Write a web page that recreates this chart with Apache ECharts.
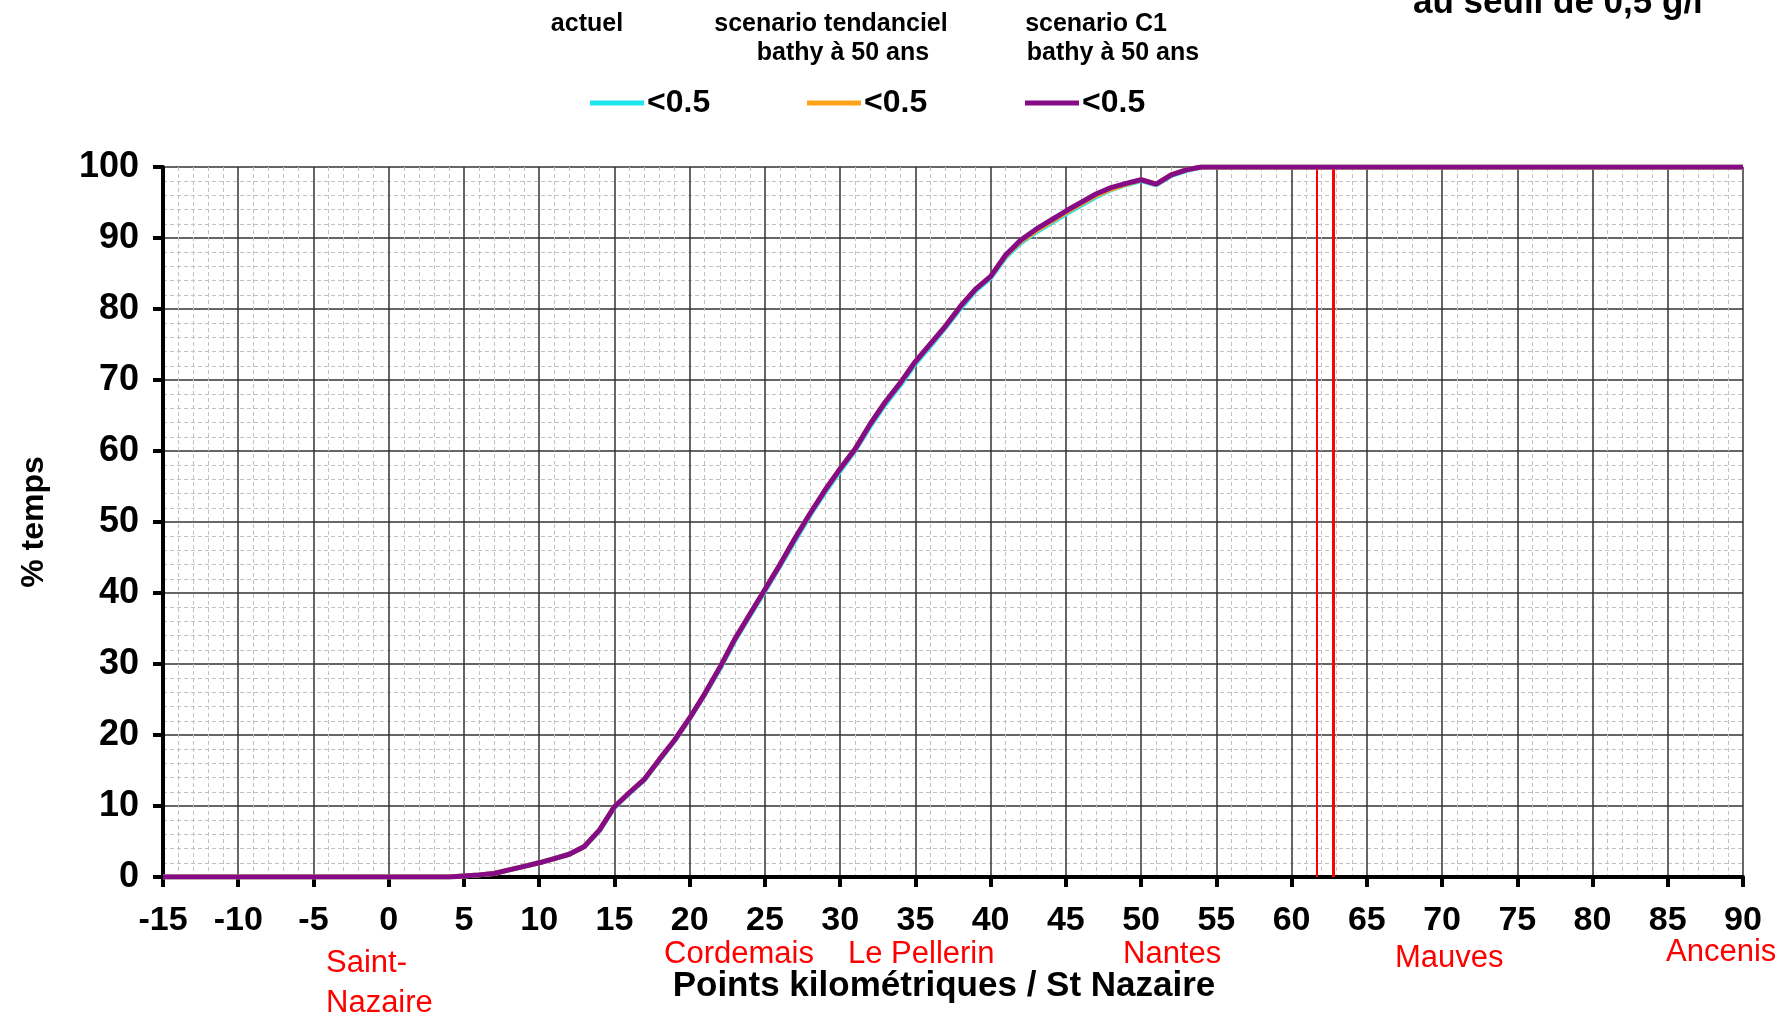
<!DOCTYPE html>
<html>
<head>
<meta charset="utf-8">
<title>% temps — Points kilométriques / St Nazaire</title>
<script src="https://cdn.jsdelivr.net/npm/echarts@6/dist/echarts.min.js"></script>
<style>
  html, body { margin: 0; padding: 0; background: #fff; }
  #chart { width: 1780px; height: 1016px; }
</style>
</head>
<body>
<div id="chart"></div>
<script>
// Kilometre points (PK from St Nazaire) where the curves are sampled
const km = [-15, -10, -5, 0, 4, 5, 6, 7, 8, 9, 10, 11, 12, 13, 14, 15, 16, 17, 18, 19,
  20, 21, 22, 23, 24, 25, 26, 27, 28, 29, 30, 31, 32, 33, 34, 35, 36, 37, 38, 39,
  40, 41, 42, 43, 44, 45, 46, 47, 48, 49, 50, 51, 52, 53, 54, 55, 60, 65, 70, 75, 80, 85, 90];

// % of time below 0.5 g/l — current state
const actuel = [0, 0, 0, 0, 0, 0.15, 0.3, 0.5, 1.0, 1.5, 2.0, 2.6, 3.2, 4.3, 6.5, 9.8, 11.8, 13.7, 16.5, 19.2,
  22.3, 25.7, 29.3, 33.3, 36.8, 40.3, 43.8, 47.4, 51.0, 54.2, 57.2, 60.1, 63.5, 66.6, 69.3, 72.3, 74.8, 77.4, 80.1, 82.6,
  84.4, 87.3, 89.3, 90.8, 92.1, 93.4, 94.6, 95.8, 96.8, 97.5, 98.1, 97.5, 98.8, 99.5, 100, 100, 100, 100, 100, 100, 100, 100, 100];

// Trend scenario, bathymetry at 50 years
const tendanciel = [0, 0, 0, 0, 0, 0.15, 0.3, 0.5, 1.0, 1.5, 2.0, 2.6, 3.2, 4.3, 6.6, 9.9, 11.9, 13.8, 16.6, 19.3,
  22.4, 25.8, 29.5, 33.5, 37.0, 40.5, 44.0, 47.7, 51.2, 54.5, 57.5, 60.3, 63.8, 66.9, 69.6, 72.6, 75.1, 77.6, 80.4, 82.8,
  84.6, 87.5, 89.5, 91.0, 92.3, 93.6, 94.8, 96.0, 96.9, 97.6, 98.2, 97.6, 98.9, 99.6, 100, 100, 100, 100, 100, 100, 100, 100, 100];

// Scenario C1, bathymetry at 50 years
const scenarioC1 = [0, 0, 0, 0, 0, 0.15, 0.3, 0.5, 1.0, 1.5, 2.0, 2.6, 3.2, 4.3, 6.6, 9.9, 11.9, 13.8, 16.6, 19.3,
  22.4, 25.8, 29.5, 33.5, 37.0, 40.5, 44.0, 47.7, 51.2, 54.5, 57.5, 60.3, 63.8, 66.9, 69.6, 72.6, 75.1, 77.6, 80.4, 82.8,
  84.6, 87.6, 89.7, 91.2, 92.5, 93.8, 95.0, 96.2, 97.1, 97.7, 98.2, 97.6, 98.9, 99.6, 100, 100, 100, 100, 100, 100, 100, 100, 100];

// Red reference lines (PK)
const redLines = [61.7, 62.8];

// Axis range and ticks
const xMin = -15, xMax = 90, xStep = 5;
const yMin = 0, yMax = 100, yStep = 10;

// Place names along the estuary
const places = ['Saint-\nNazaire', 'Cordemais', 'Le Pellerin', 'Nantes', 'Mauves', 'Ancenis'];
const legendLabel = '<0.5';
const seriesNames = ['actuel', 'scenario tendanciel bathy à 50 ans', 'scenario C1 bathy à 50 ans'];

const FONT = "'Liberation Sans', Arial, Helvetica, sans-serif";
const colors = ['#1ee6f0', '#ffa31a', '#860b86'];

const chart = echarts.init(document.getElementById('chart'), null, { renderer: 'canvas' });

const pairs = (vals) => km.map((k, i) => [k, vals[i]]);

const placePos = [[326, 963], [664, 954], [848, 954], [1123, 954], [1395, 958], [1666, 952]];

const headerStyle = (text) => ({ text, font: 'bold 25px ' + FONT, fill: '#000', align: 'center', verticalAlign: 'middle' });

const graphics = [
  // bottom line of the heading (upper part runs off the page)
  { type: 'text', left: 1413, top: -14, style: { text: 'au seuil de 0,5 g/l', font: 'bold 35px ' + FONT, fill: '#000' } },
  { type: 'text', x: 587, y: 24, style: headerStyle('actuel') },
  { type: 'text', x: 831, y: 24, style: headerStyle('scenario tendanciel') },
  { type: 'text', x: 843, y: 53, style: headerStyle('bathy à 50 ans') },
  { type: 'text', x: 1096, y: 24, style: headerStyle('scenario C1') },
  { type: 'text', x: 1113, y: 53, style: headerStyle('bathy à 50 ans') }
];
places.forEach((p, i) => {
  const multi = p.indexOf('\n') >= 0;
  graphics.push({
    type: 'text', x: placePos[i][0], y: multi ? placePos[i][1] + 20 : placePos[i][1],
    style: { text: p, font: '31px ' + FONT, fill: '#ff0000', align: 'left',
             verticalAlign: 'middle', lineHeight: multi ? 40 : 31 }
  });
});

const legendLeft = [585, 802, 1020];

const option = {
  animation: false,
  backgroundColor: '#ffffff',
  textStyle: { fontFamily: FONT },
  grid: { left: 163, right: 37, top: 167, bottom: 139, containLabel: false, outerBoundsMode: 'none' },
  legend: seriesNames.map((n, i) => ({
    data: [n],
    left: legendLeft[i],
    top: 82,
    selectedMode: false,
    icon: 'rect',
    itemWidth: 54,
    itemHeight: 5,
    formatter: () => legendLabel,
    textStyle: { fontFamily: FONT, fontWeight: 'bold', fontSize: 32, color: '#000', padding: [0, 0, 0, -2] }
  })),
  xAxis: {
    type: 'value', min: xMin, max: xMax, interval: xStep,
    name: 'Points kilométriques / St Nazaire',
    nameLocation: 'middle', nameGap: 92,
    nameTextStyle: { fontFamily: FONT, fontWeight: 'bold', fontSize: 35, color: '#000', padding: [0, 18, 0, 0] },
    axisLine: { show: true, onZero: false, lineStyle: { color: '#000', width: 4 } },
    axisTick: { show: true, length: 10, lineStyle: { color: '#000', width: 4 } },
    axisLabel: { fontFamily: FONT, fontWeight: 'bold', fontSize: 34, color: '#000', margin: 27 },
    splitLine: { show: true, lineStyle: { color: '#333333', width: 1.5 } },
    minorTick: { show: false, splitNumber: 5 },
    minorSplitLine: { show: true, lineStyle: { color: '#c2c2c2', width: 1, type: [4, 3] } }
  },
  yAxis: {
    type: 'value', min: yMin, max: yMax, interval: yStep,
    name: '% temps',
    nameLocation: 'middle', nameGap: 113, nameRotate: 90,
    nameTextStyle: { fontFamily: FONT, fontWeight: 'bold', fontSize: 32, color: '#000' },
    axisLine: { show: true, onZero: false, lineStyle: { color: '#000', width: 4 } },
    axisTick: { show: true, length: 10, lineStyle: { color: '#000', width: 4 } },
    axisLabel: { fontFamily: FONT, fontWeight: 'bold', fontSize: 36, color: '#000', margin: 24 },
    splitLine: { show: true, lineStyle: { color: '#333333', width: 1.5 } },
    minorTick: { show: false, splitNumber: 5 },
    minorSplitLine: { show: true, lineStyle: { color: '#c2c2c2', width: 1, type: [4, 3] } }
  },
  graphic: graphics,
  series: [
    {
      name: 'reperes', type: 'line', data: [], silent: true, z: 3,
      markLine: {
        silent: true, symbol: ['none', 'none'], label: { show: false },
        data: redLines.map((v, i) => ({ xAxis: v, lineStyle: { color: '#ff0000', width: i === 0 ? 2 : 3, type: 'solid' } }))
      }
    },
    { name: seriesNames[0], type: 'line', data: pairs(actuel), showSymbol: false, z: 4,
      lineStyle: { color: colors[0], width: 5 }, itemStyle: { color: colors[0] } },
    { name: seriesNames[1], type: 'line', data: pairs(tendanciel), showSymbol: false, z: 5,
      lineStyle: { color: colors[1], width: 5 }, itemStyle: { color: colors[1] } },
    { name: seriesNames[2], type: 'line', data: pairs(scenarioC1), showSymbol: false, z: 6,
      lineStyle: { color: colors[2], width: 5 }, itemStyle: { color: colors[2] } }
  ]
};

chart.setOption(option);
</script>
</body>
</html>
